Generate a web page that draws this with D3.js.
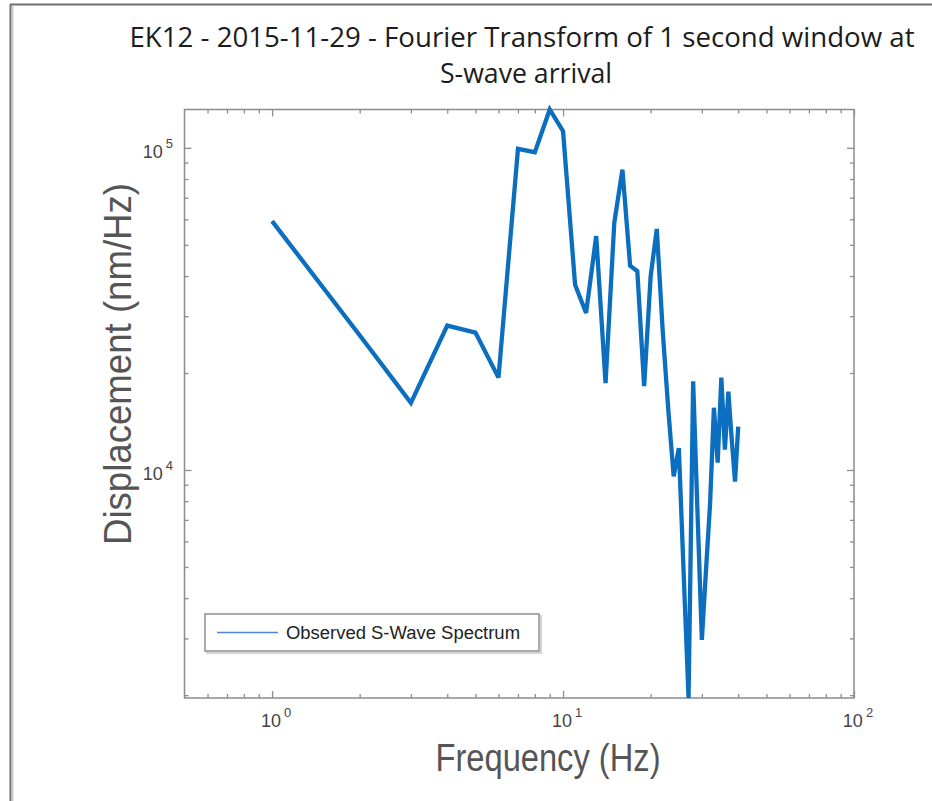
<!DOCTYPE html>
<html>
<head>
<meta charset="utf-8">
<script src="https://cdn.jsdelivr.net/npm/d3@7/dist/d3.min.js"></script>
<style>
  html, body { margin: 0; padding: 0; background: #fff; }
  svg { display: block; }
</style>
</head>
<body>
<svg id="chart" width="932" height="801"></svg>
<script>
// Spectrum of a 1 s window (1 Hz bins), amplitude in nm/Hz
const frequencies = [1, 2, 3, 4, 5, 6, 7, 8, 9, 10,
  11, 12, 13, 14, 15, 16, 17, 18, 19, 20,
  21, 22, 23, 24, 25, 26, 27, 28, 29, 30,
  31, 32, 33, 34, 35, 36, 37, 38, 39, 40];
const displacement = [59200, 26200, 16150, 28060, 26700, 19350, 99300, 96900, 131500, 112600,
  37600, 30700, 53200, 18600, 58500, 85600, 43100, 41400, 18200, 39900,
  56000, 27100, 15400, 9550, 11700, 4670, 1960, 18840, 7260, 2970,
  4900, 7800, 15600, 10540, 19350, 11560, 17500, 12420, 9200, 13630];

const xDomain = [0.5, 100];
const xMajorTicks = [1, 10, 100];
const xMinorTicks = [0.6, 0.7, 0.8, 0.9, 2, 3, 4, 5, 6, 7, 8, 9, 20, 30, 40, 50, 60, 70, 80, 90];
const yMajorTicks = [1e4, 1e5];
const yMinorTicks = [2000, 3000, 4000, 5000, 6000, 7000, 8000, 9000,
  20000, 30000, 40000, 50000, 60000, 70000, 80000, 90000];

const titleLines = ["EK12 - 2015-11-29 - Fourier Transform of 1 second window at", "S-wave arrival"];
const xLabel = "Frequency (Hz)";
const yLabel = "Displacement (nm/Hz)";
const legendLabel = "Observed S-Wave Spectrum";

const svg = d3.select("#chart");
const W = 932, H = 801;
const plot = { left: 184.5, right: 854, top: 109.5, bottom: 698 };
const axisColor = "#8c8c8c";
const lineColor = "#0b6ebf";
const narrow = "'Liberation Sans Narrow', 'Liberation Sans', Arial, sans-serif";

// window frame
svg.append("rect").attr("width", W).attr("height", H).attr("fill", "#fff");
svg.append("line").attr("x1", 10).attr("x2", W).attr("y1", 4.5).attr("y2", 4.5)
  .attr("stroke", "#6e6e6e").attr("stroke-width", 2);
svg.append("line").attr("x1", 10.5).attr("x2", 10.5).attr("y1", 4).attr("y2", H)
  .attr("stroke", "#6e6e6e").attr("stroke-width", 2);
svg.append("line").attr("x1", 12.5).attr("x2", 12.5).attr("y1", 6).attr("y2", H)
  .attr("stroke", "#c8c8c8").attr("stroke-width", 2);

const x = d3.scaleLog().domain(xDomain).range([plot.left, plot.right]);
const y = d3.scaleLog().domain(d3.extent(displacement)).range([plot.bottom, plot.top]);

// axis box with inward ticks on all four sides
function tickAxis(axisFn, scale, values, size, transform) {
  const g = svg.append("g").attr("transform", transform)
    .call(axisFn(scale).tickValues(values).tickSize(size).tickFormat(""));
  g.select(".domain").remove();
  g.selectAll(".tick line").attr("stroke", axisColor).attr("stroke-width", 1.3);
  return g;
}
tickAxis(d3.axisBottom, x, xMajorTicks, -7, `translate(0,${plot.bottom})`);
tickAxis(d3.axisBottom, x, xMinorTicks, -4, `translate(0,${plot.bottom})`);
tickAxis(d3.axisTop, x, xMajorTicks, -7, `translate(0,${plot.top})`);
tickAxis(d3.axisTop, x, xMinorTicks, -4, `translate(0,${plot.top})`);
tickAxis(d3.axisLeft, y, yMajorTicks, -7, `translate(${plot.left},0)`);
tickAxis(d3.axisLeft, y, yMinorTicks, -4, `translate(${plot.left},0)`);
tickAxis(d3.axisRight, y, yMajorTicks, -7, `translate(${plot.right},0)`);
tickAxis(d3.axisRight, y, yMinorTicks, -4, `translate(${plot.right},0)`);

svg.append("rect")
  .attr("x", plot.left).attr("y", plot.top)
  .attr("width", plot.right - plot.left).attr("height", plot.bottom - plot.top)
  .attr("fill", "none").attr("stroke", axisColor).attr("stroke-width", 1.5);

// power-of-ten tick labels
function powerLabel(sel, v) {
  const e = Math.round(Math.log10(v));
  sel.append("tspan").text("10");
  sel.append("tspan").attr("dx", 3).attr("dy", -10).attr("font-size", 13).text(e);
}
const tickFont = "'Liberation Sans', Arial, sans-serif";
xMajorTicks.forEach(v => {
  const t = svg.append("text").attr("x", x(v) + 4).attr("y", 727)
    .attr("text-anchor", "middle").attr("font-family", tickFont)
    .attr("font-size", 18).attr("fill", "#444");
  powerLabel(t, v);
});
yMajorTicks.forEach(v => {
  const t = svg.append("text").attr("x", 173).attr("y", y(v) + 10)
    .attr("text-anchor", "end").attr("font-family", tickFont)
    .attr("font-size", 18).attr("fill", "#444");
  powerLabel(t, v);
});

// spectrum line
const line = d3.line()
  .x((d, i) => x(frequencies[i]))
  .y(d => y(d));
svg.append("path")
  .datum(displacement)
  .attr("d", line)
  .attr("fill", "none")
  .attr("stroke", lineColor)
  .attr("stroke-width", 4.3)
  .attr("stroke-linejoin", "miter")
  .attr("stroke-miterlimit", 3);

// titles and axis labels
svg.append("text").attr("x", 522).attr("y", 47).attr("text-anchor", "middle")
  .attr("font-family", "'Open Sans', 'Noto Sans', sans-serif").attr("font-size", 28)
  .attr("fill", "#1c1c1c").attr("textLength", 785).attr("lengthAdjust", "spacingAndGlyphs")
  .text(titleLines[0]);
svg.append("text").attr("x", 526).attr("y", 83).attr("text-anchor", "middle")
  .attr("font-family", "'Open Sans', 'Noto Sans', sans-serif").attr("font-size", 28)
  .attr("fill", "#1c1c1c").attr("textLength", 172).attr("lengthAdjust", "spacingAndGlyphs")
  .text(titleLines[1]);

svg.append("text").attr("x", 548).attr("y", 771).attr("text-anchor", "middle")
  .attr("font-family", narrow).attr("font-size", 38).attr("fill", "#555")
  .attr("textLength", 225).attr("lengthAdjust", "spacingAndGlyphs")
  .text(xLabel);
svg.append("text").attr("transform", "translate(131,364) rotate(-90)")
  .attr("text-anchor", "middle")
  .attr("font-family", narrow).attr("font-size", 38).attr("fill", "#555")
  .attr("textLength", 362).attr("lengthAdjust", "spacingAndGlyphs")
  .text(yLabel);

// legend
const lg = svg.append("g");
lg.append("rect").attr("x", 206).attr("y", 615).attr("width", 334).attr("height", 37)
  .attr("fill", "none").attr("stroke", "#d4d4d4").attr("stroke-width", 2)
  .attr("transform", "translate(1,1)");
lg.append("rect").attr("x", 205).attr("y", 614).attr("width", 334).attr("height", 37)
  .attr("fill", "#fff").attr("stroke", "#8f8f8f").attr("stroke-width", 1.5);
lg.append("line").attr("x1", 217).attr("x2", 278).attr("y1", 632.5).attr("y2", 632.5)
  .attr("stroke", "#4f86d6").attr("stroke-width", 1.5);
lg.append("text").attr("x", 286).attr("y", 639)
  .attr("font-family", narrow).attr("font-size", 18).attr("fill", "#222")
  .attr("textLength", 234).attr("lengthAdjust", "spacingAndGlyphs")
  .text(legendLabel);
</script>
</body>
</html>
